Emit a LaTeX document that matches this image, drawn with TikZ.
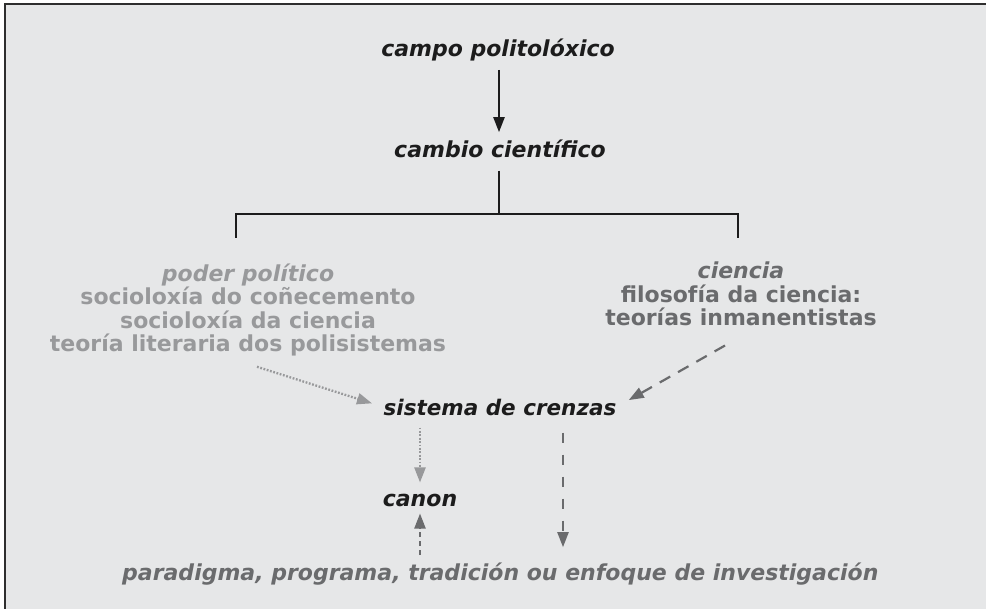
\documentclass[tikz,border=0pt]{standalone}
\usepackage{fontspec}
\setmainfont{DejaVu Sans}
\usetikzlibrary{arrows.meta,calc}
\definecolor{bg}{HTML}{E6E7E8}
\definecolor{framec}{HTML}{2E2E2E}
\definecolor{ink}{HTML}{1C1C1C}
\definecolor{lgray}{HTML}{98999B}
\definecolor{dgray}{HTML}{6A6B6D}
\begin{document}
\begin{tikzpicture}[x=1pt,y=-1pt,
  lbl/.style={inner sep=0pt, anchor=base, align=center, font=\fontsize{22}{23.5}\selectfont\bfseries},
  ilbl/.style={lbl, font=\fontsize{22}{23.5}\selectfont\bfseries\itshape},
  tip/.style={-{Triangle[length=15pt,width=11pt]}},
  blackarrow/.style={ink, line width=2.2pt, tip},
  bracket/.style={ink, line width=2.5pt, line join=miter},
  dotarrow/.style={lgray, line width=2.3pt, dash pattern=on 1.8pt off 1.6pt, tip},
  dasharrow/.style={dgray, line width=2.2pt, dash pattern=on 12pt off 9pt, tip},
  vdasharrow/.style={dgray, line width=2.2pt, dash pattern=on 10pt off 12pt, tip},
  sdasharrow/.style={dgray, line width=2.2pt, dash pattern=on 5pt off 4pt, tip}
]
\useasboundingbox (0,0) rectangle (986,609);
\fill[white] (0,0) rectangle (986,609);
\fill[bg] (5,4) rectangle (986,609);
\draw[framec, line width=2pt] (5,609) -- (5,4) -- (986,4);

\node[ilbl, text=ink] (campo) at (498,57) {campo politolóxico};
\node[ilbl, text=ink] (cambio) at (500,158) {cambio científico};
\node[lbl, text=lgray] (poder) at (248,352) {{\itshape poder político}\\socioloxía do coñecemento\\socioloxía da ciencia\\teoría literaria dos polisistemas};
\node[lbl, text=dgray] (ciencia) at (741,326) {{\itshape ciencia}\\filosofía da ciencia:\\teorías inmanentistas};
\node[ilbl, text=ink, font=\fontsize{21.5}{23}\selectfont\bfseries\itshape] (sistema) at (500,416) {sistema de crenzas};
\node[ilbl, text=ink] (canon) at (420,507) {canon};
\node[ilbl, text=dgray, anchor=base west] (para) at (122,580) {paradigma, programa, tradición ou enfoque de investigación};

\coordinate (hub) at (499,214);
\coordinate (lft) at (236,238);
\coordinate (rgt) at (738,238);

\draw[blackarrow, shorten <=8pt, shorten >=8pt] (campo.south -| hub) -- (cambio.north -| hub);
\draw[bracket, shorten <=12pt] (cambio.south -| hub) -- (hub);
\draw[bracket] (lft) |- (hub) -| (rgt);

\draw[dotarrow, shorten >=12pt] ($(poder.south)+(9,10)$) -- ($(sistema.west)+(0,-1)$);
\draw[dasharrow, shorten >=14pt] ($(ciencia.south)+(-16,19)$) -- ($(sistema.east)+(0,-1)$);
\draw[dotarrow, shorten <=11pt, shorten >=12pt] (sistema.south -| canon.north) -- (canon.north);
\coordinate (ldtop) at ($(sistema.south)+(63,16)$);
\draw[vdasharrow, shorten >=15pt] (ldtop) -- (ldtop |- para.north);
\draw[sdasharrow, shorten <=7pt, shorten >=6pt] (canon.south |- para.north) -- (canon.south);
\end{tikzpicture}
\end{document}
